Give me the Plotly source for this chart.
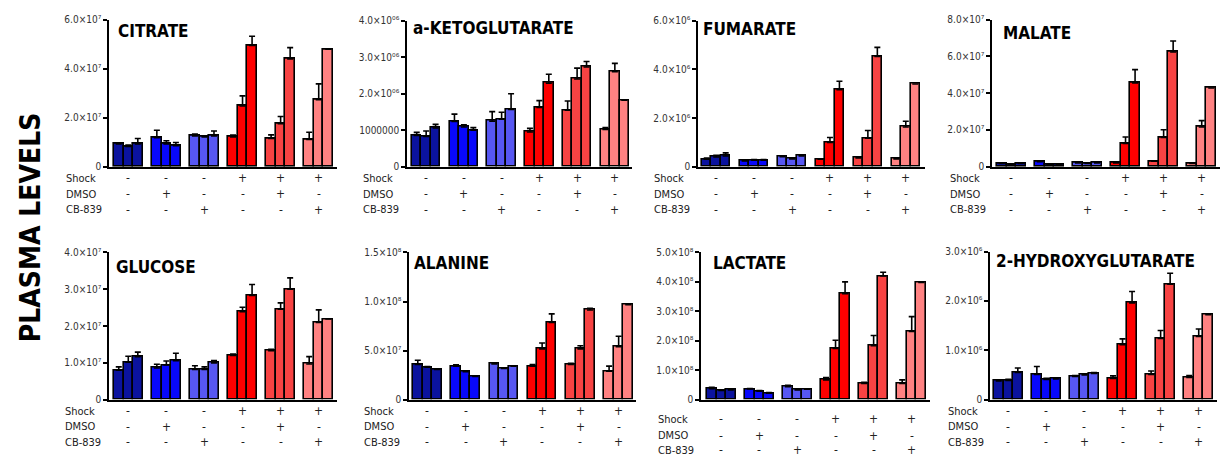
import plotly.graph_objects as go

W, H = 1221, 467
FONT = "DejaVu Sans Condensed, Liberation Sans Narrow, sans-serif"

# ---------------- data ----------------
group_colors = ["#0b139e", "#0808fb", "#5757f2", "#fe0000", "#f74343", "#ff8282"]
row_labels = ["Shock", "DMSO", "CB-839"]
shock_row = ["-", "-", "-", "+", "+", "+"]
dmso_row = ["-", "+", "-", "-", "+", "-"]
cb839_row = ["-", "-", "+", "-", "-", "+"]

titles = ["CITRATE", "a-KETOGLUTARATE", "FUMARATE", "MALATE",
          "GLUCOSE", "ALANINE", "LACTATE", "2-HYDROXYGLUTARATE"]

citrate = [0.93e7, 0.83e7, 0.93e7, 1.19e7, 0.93e7, 0.86e7, 1.26e7, 1.22e7, 1.26e7,
           1.22e7, 2.48e7, 4.95e7, 1.15e7, 1.76e7, 4.40e7, 1.11e7, 2.74e7, 4.79e7]
citrate_err = [0.05e7, 0.06e7, 0.22e7, 0.30e7, 0.13e7, 0.13e7, 0.07e7, 0.04e7, 0.20e7,
               0.07e7, 0.41e7, 0.37e7, 0.15e7, 0.29e7, 0.46e7, 0.30e7, 0.64e7, None]

akg = [0.86e6, 0.83e6, 1.06e6, 1.24e6, 1.09e6, 1.00e6, 1.25e6, 1.30e6, 1.57e6,
       0.95e6, 1.62e6, 2.29e6, 1.55e6, 2.40e6, 2.73e6, 1.02e6, 2.60e6, 1.82e6]
akg_err = [0.08e6, 0.15e6, 0.10e6, 0.20e6, 0.06e6, 0.07e6, 0.26e6, 0.19e6, 0.43e6,
           0.10e6, 0.19e6, 0.24e6, 0.25e6, 0.30e6, 0.15e6, 0.05e6, 0.23e6, None]

fumarate = [0.31e6, 0.40e6, 0.44e6, 0.24e6, 0.27e6, 0.27e6, 0.41e6, 0.32e6, 0.44e6,
            0.31e6, 1.00e6, 3.16e6, 0.36e6, 1.17e6, 4.53e6, 0.32e6, 1.63e6, 3.40e6]
fumarate_err = [0.05e6, 0.07e6, 0.13e6, 0.03e6, 0.03e6, 0.03e6, 0.02e6, 0.02e6, 0.02e6,
                0.02e6, 0.20e6, 0.35e6, 0.02e6, 0.32e6, 0.37e6, 0.01e6, 0.24e6, None]

malate = [0.18e7, 0.14e7, 0.18e7, 0.27e7, 0.11e7, 0.11e7, 0.21e7, 0.18e7, 0.21e7,
          0.21e7, 1.27e7, 4.56e7, 0.30e7, 1.59e7, 6.24e7, 0.18e7, 2.16e7, 4.28e7]
malate_err = [0.02e7, 0.02e7, 0.02e7, 0.05e7, 0.02e7, 0.02e7, 0.02e7, 0.02e7, 0.02e7,
              0.02e7, 0.35e7, 0.72e7, 0.03e7, 0.42e7, 0.60e7, 0.01e7, 0.35e7, None]

glucose = [0.80e7, 1.02e7, 1.17e7, 0.86e7, 0.94e7, 1.06e7, 0.82e7, 0.82e7, 1.00e7,
           1.20e7, 2.39e7, 2.83e7, 1.33e7, 2.46e7, 3.00e7, 0.97e7, 2.10e7, 2.19e7]
glucose_err = [0.09e7, 0.16e7, 0.12e7, 0.10e7, 0.11e7, 0.20e7, 0.10e7, 0.07e7, 0.06e7,
               0.04e7, 0.12e7, 0.30e7, 0.04e7, 0.17e7, 0.31e7, 0.20e7, 0.34e7, None]

alanine = [3.58e7, 3.31e7, 3.08e7, 3.41e7, 2.85e7, 2.35e7, 3.64e7, 3.18e7, 3.41e7,
           3.41e7, 5.17e7, 7.88e7, 3.58e7, 5.17e7, 9.14e7, 2.91e7, 5.40e7, 9.67e7]
alanine_err = [0.43e7, 0.05e7, 0.03e7, 0.13e7, 0.10e7, 0.07e7, 0.05e7, 0.05e7, 0.05e7,
               0.17e7, 0.60e7, 0.86e7, 0.13e7, 0.33e7, 0.17e7, 0.50e7, 1.06e7, None]

lactate = [0.375e8, 0.31e8, 0.33e8, 0.36e8, 0.29e8, 0.22e8, 0.44e8, 0.33e8, 0.35e8,
           0.67e8, 1.74e8, 3.60e8, 0.55e8, 1.83e8, 4.20e8, 0.55e8, 2.32e8, 3.98e8]
lactate_err = [0.04e8, 0.02e8, 0.03e8, 0.02e8, 0.02e8, 0.02e8, 0.05e8, 0.02e8, 0.02e8,
               0.08e8, 0.28e8, 0.40e8, 0.04e8, 0.35e8, 0.13e8, 0.12e8, 0.50e8, None]

hg2 = [0.38e6, 0.39e6, 0.55e6, 0.51e6, 0.41e6, 0.42e6, 0.47e6, 0.50e6, 0.53e6,
       0.43e6, 1.11e6, 1.96e6, 0.51e6, 1.24e6, 2.34e6, 0.45e6, 1.28e6, 1.72e6]
hg2_err = [0.02e6, 0.02e6, 0.09e6, 0.16e6, 0.02e6, 0.02e6, 0.02e6, 0.02e6, 0.02e6,
           0.05e6, 0.12e6, 0.23e6, 0.07e6, 0.16e6, 0.22e6, 0.04e6, 0.15e6, None]

citrate_ticks = [0, 2e7, 4e7, 6e7]
citrate_text = ["0", "2.0×10⁷", "4.0×10⁷", "6.0×10⁷"]
akg_ticks = [0, 1e6, 2e6, 3e6, 4e6]
akg_text = ["0", "1000000", "2.0×10⁰⁶", "3.0×10⁰⁶", "4.0×10⁰⁶"]
fumarate_ticks = [0, 2e6, 4e6, 6e6]
fumarate_text = ["0", "2.0×10⁶", "4.0×10⁶", "6.0×10⁶"]
malate_ticks = [0, 2e7, 4e7, 6e7, 8e7]
malate_text = ["0", "2.0×10⁷", "4.0×10⁷", "6.0×10⁷", "8.0×10⁷"]
glucose_ticks = [0, 1e7, 2e7, 3e7, 4e7]
glucose_text = ["0", "1.0×10⁷", "2.0×10⁷", "3.0×10⁷", "4.0×10⁷"]
alanine_ticks = [0, 5e7, 1e8, 1.5e8]
alanine_text = ["0", "5.0×10⁷", "1.0×10⁸", "1.5×10⁸"]
lactate_ticks = [0, 1e8, 2e8, 3e8, 4e8, 5e8]
lactate_text = ["0", "1.0×10⁸", "2.0×10⁸", "3.0×10⁸", "4.0×10⁸", "5.0×10⁸"]
hg2_ticks = [0, 1e6, 2e6, 3e6]
hg2_text = ["0", "1.0×10⁶", "2.0×10⁶", "3.0×10⁶"]

values = [citrate, akg, fumarate, malate, glucose, alanine, lactate, hg2]
errors = [citrate_err, akg_err, fumarate_err, malate_err, glucose_err, alanine_err, lactate_err, hg2_err]
tickvals = [citrate_ticks, akg_ticks, fumarate_ticks, malate_ticks,
            glucose_ticks, alanine_ticks, lactate_ticks, hg2_ticks]
ticktexts = [citrate_text, akg_text, fumarate_text, malate_text,
             glucose_text, alanine_text, lactate_text, hg2_text]

# ---------------- layout geometry (pixels) ----------------
# axis x, first bar left, last bar right, axis end, top px, zero px
geom = [
    (109, 114, 333, 337, 14, 165),
    (407, 412, 629, 632, 15, 165),
    (698, 702, 920, 925, 15, 165),
    (992, 997, 1216, 1220, 14, 165),
    (109, 114, 333, 337, 253, 404),
    (409, 413, 633, 636, 253, 404),
    (701, 707, 926, 930, 253, 404),
    (990, 994, 1213, 1217, 252, 404),
]
title_pos = [(116, 26), (411, 23), (701, 24), (1001, 28),
             (114, 268), (412, 264), (711, 264), (994, 262)]
label_x = [64, 361, 652, 948, 63, 362, 656, 946]
row_y = [(177, 193, 209)] * 4 + [(416, 432, 448), (416, 432, 448), (424, 441, 456), (416, 432, 448)]

xpos = [g * 4 + b for g in range(6) for b in range(3)]
colors = [group_colors[g] for g in range(6) for b in range(3)]
centers = [g * 4 + 1 for g in range(6)]

fig = go.Figure()
annotations = []
for i in range(8):
    n = i + 1
    A, L, R, E, top, zero = geom[i]
    unit = (R - L) / 23.0
    lo = -0.5 - (L - A) / unit
    hi = 22.5 + (E - R) / unit
    ymax = tickvals[i][-1]
    fig.add_trace(go.Bar(
        x=xpos, y=values[i], width=1.0,
        marker=dict(color=colors, line=dict(color="black", width=1.6)),
        error_y=dict(type="data", array=errors[i], arrayminus=[0] * 18, symmetric=False,
                     color="black", thickness=1.6, width=3),
        xaxis=f"x{n}", yaxis=f"y{n}", showlegend=False, hoverinfo="skip",
    ))
    xa = dict(domain=[A / W, E / W], range=[lo, hi], showline=True, linecolor="black",
              linewidth=1.5, showticklabels=False, ticks="", showgrid=False, zeroline=False,
              anchor=f"y{n}", fixedrange=True)
    ya = dict(domain=[1 - zero / H, 1 - top / H], range=[0, ymax], showline=True,
              linecolor="black", linewidth=1.5, ticks="outside", ticklen=4, tickwidth=1.5,
              tickcolor="black", tickvals=tickvals[i], ticktext=ticktexts[i],
              tickfont=dict(family=FONT, size=10, color="#333333"), showgrid=False,
              zeroline=False, anchor=f"x{n}", fixedrange=True)
    fig.layout[f"xaxis{'' if n == 1 else n}"] = xa
    fig.layout[f"yaxis{'' if n == 1 else n}"] = ya

    tx, ty = title_pos[i]
    annotations.append(dict(text=f"<b>{titles[i]}</b>", xref="paper", yref="paper",
                            x=tx / W, y=1 - ty / H, xanchor="left", yanchor="middle",
                            showarrow=False, font=dict(family=FONT, size=17, color="black")))
    rows = [shock_row, dmso_row, cb839_row]
    for r in range(3):
        ypx = row_y[i][r]
        annotations.append(dict(text=row_labels[r], xref="paper", yref="paper",
                                x=label_x[i] / W, y=1 - ypx / H, xanchor="left", yanchor="middle",
                                showarrow=False, font=dict(family=FONT, size=11, color="#222222")))
        for g in range(6):
            annotations.append(dict(text=rows[r][g], xref=f"x{n}", yref="paper",
                                    x=centers[g], y=1 - ypx / H, xanchor="center",
                                    yanchor="middle", showarrow=False,
                                    font=dict(family=FONT, size=12, color="#222222")))

annotations.append(dict(text="<b>PLASMA LEVELS</b>", xref="paper", yref="paper",
                        x=30 / W, y=1 - 227 / H, xanchor="center", yanchor="middle",
                        textangle=-90, showarrow=False,
                        font=dict(family=FONT, size=28, color="black")))

fig.update_layout(width=W, height=H, margin=dict(l=0, r=0, t=0, b=0),
                  paper_bgcolor="white", plot_bgcolor="white", annotations=annotations,
                  bargap=0, font=dict(family=FONT))
page_css = (
    "var s='margin:0;padding:0;overflow:hidden;width:1221px;height:467px';"
    "document.documentElement.style.cssText=s;document.body.style.cssText=s;"
)
fig.write_html("out.html", config={"displayModeBar": False}, post_script=page_css)
